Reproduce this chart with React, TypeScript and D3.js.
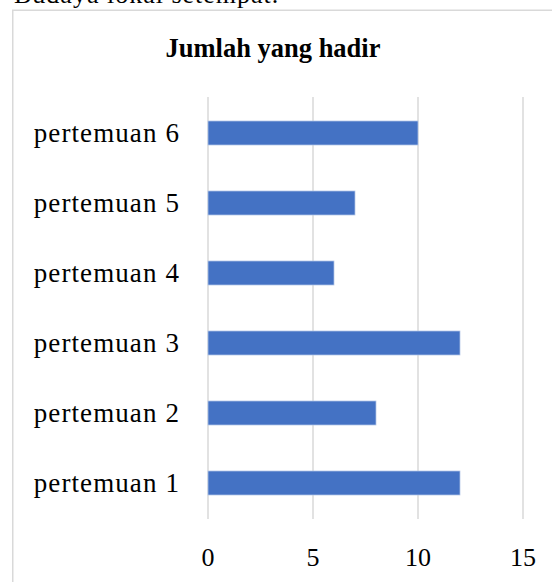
import * as d3 from "d3";
import { useRef, useEffect } from "react";

const categories = ["pertemuan 1", "pertemuan 2", "pertemuan 3", "pertemuan 4", "pertemuan 5", "pertemuan 6"];
const values = [12, 8, 12, 6, 7, 10];
const xTicks = [0, 5, 10, 15];

export default function App() {
    const ref = useRef<SVGSVGElement>(null);

    const width = 552;
    const height = 582;
    const marginLeft = 208;
    const plotRight = 523;
    const plotTop = 98;
    const plotBottom = 518;
    const font = "'Liberation Serif', serif";

    useEffect(() => {
        const svg = d3.select(ref.current);
        svg.selectAll("*").remove();

        const x = d3.scaleLinear().domain([0, 15]).range([marginLeft, plotRight]);
        const y = d3.scaleBand()
            .domain(categories.slice().reverse())
            .range([plotTop, plotBottom])
            .paddingInner(0.657)
            .paddingOuter(0.3285);

        // text above chart, cut off by the page edge
        svg.append("text")
            .attr("x", 14)
            .attr("y", 3)
            .attr("font-family", font)
            .attr("font-size", 26)
            .attr("letter-spacing", 1)
            .attr("fill", "#000")
            .text("Budaya lokal setempat.");

        // chart border
        svg.append("rect")
            .attr("x", 12.75)
            .attr("y", 10.25)
            .attr("width", 600)
            .attr("height", 600)
            .attr("fill", "#fff")
            .attr("stroke", "#d9d9d9")
            .attr("stroke-width", 1.5);

        // title
        svg.append("text")
            .attr("x", 273)
            .attr("y", 57)
            .attr("text-anchor", "middle")
            .attr("font-family", font)
            .attr("font-size", 26.5)
            .attr("font-weight", "bold")
            .text("Jumlah yang hadir");

        // gridlines
        svg.append("g")
            .selectAll("line")
            .data(xTicks)
            .join("line")
                .attr("x1", d => x(d))
                .attr("x2", d => x(d))
                .attr("y1", plotTop - 1)
                .attr("y2", plotBottom + 1)
                .attr("stroke", "#d9d9d9")
                .attr("stroke-width", 1.5);

        // bars
        svg.append("g")
            .selectAll("rect")
            .data(values)
            .join("rect")
                .attr("x", x(0))
                .attr("y", (d, i) => y(categories[i])!)
                .attr("width", d => x(d) - x(0))
                .attr("height", y.bandwidth())
                .attr("fill", "#4472c4")
                .attr("stroke", "#b4c7e7")
                .attr("stroke-width", 0.75);

        // category labels
        svg.append("g")
            .selectAll("text")
            .data(categories)
            .join("text")
                .attr("x", 180)
                .attr("y", d => y(d)! + y.bandwidth() / 2)
                .attr("dy", "0.33em")
                .attr("text-anchor", "end")
                .attr("font-family", font)
                .attr("font-size", 27)
                .attr("letter-spacing", 1.1)
                .text(d => d);

        // x tick labels
        svg.append("g")
            .selectAll("text")
            .data(xTicks)
            .join("text")
                .attr("x", d => x(d))
                .attr("y", 566)
                .attr("text-anchor", "middle")
                .attr("font-family", font)
                .attr("font-size", 26)
                .text(d => d);
    }, []);

    return (
        <svg ref={ref} width={width} height={height}
            style={{ position: "absolute", left: 0, top: 0, background: "#fff" }} />
    );
}
